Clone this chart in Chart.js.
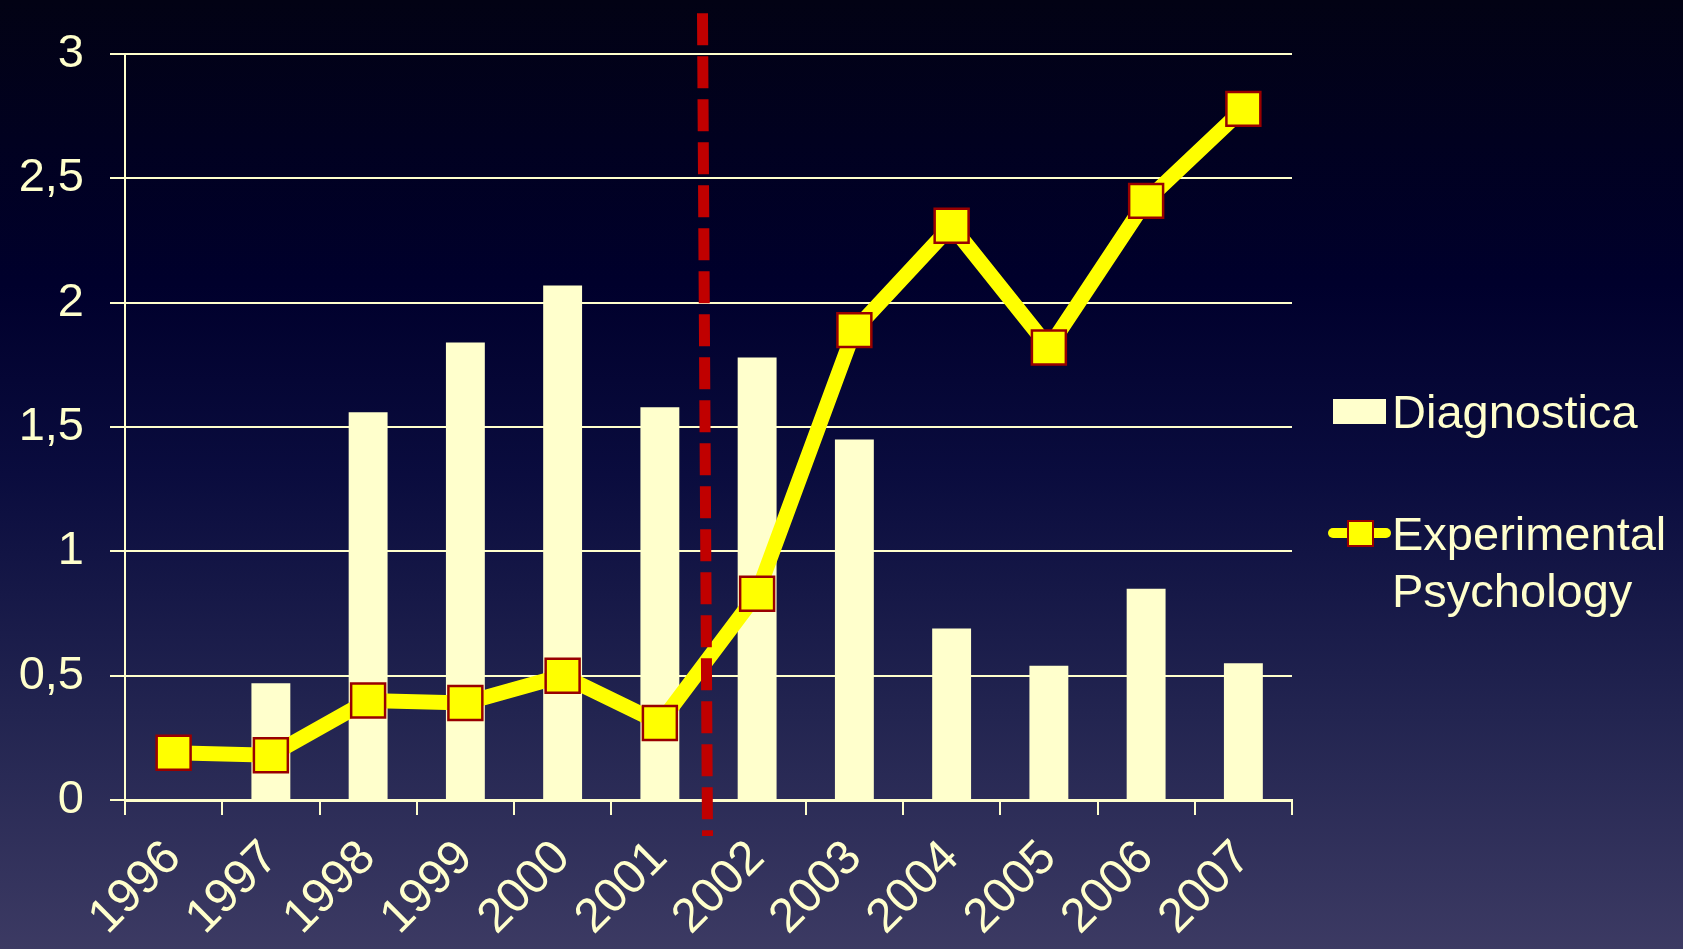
<!DOCTYPE html>
<html>
<head>
<meta charset="utf-8">
<script src="https://cdn.jsdelivr.net/npm/chart.js@4"></script>
<style>
	html, body { margin: 0; padding: 0; overflow: hidden; }
	body {
		width: 1683px; height: 949px;
		background: linear-gradient(to bottom, #020214 0%, #00002c 30%, #0a0c3e 50%, #222450 75%, #3c3a63 100%);
		font-family: 'Liberation Sans', Arial, sans-serif;
	}
	#wrap { position: relative; width: 1683px; height: 949px; }
	.lg-text { position: absolute; color: #ffffcc; font-size: 47px; line-height: 57px; white-space: nowrap; }
	.lg-box { position: absolute; background: #ffffcc; }
	.lg-line { position: absolute; background: #ffff00; border-radius: 5px; }
	.lg-mark { position: absolute; background: #ffff00; border: 2px solid #990000; box-sizing: border-box; }
</style>
</head>
<body>
<div id="wrap">
	<canvas id="chart"></canvas>
	<div class="lg-box" style="left:1333px; top:399px; width:53px; height:25px;"></div>
	<div class="lg-text" id="lg1" style="left:1392px; top:383px;"></div>
	<div class="lg-line" style="left:1328px; top:528px; width:63px; height:10px;"></div>
	<div class="lg-mark" style="left:1347px; top:520px; width:27px; height:27px;"></div>
	<div class="lg-text" id="lg2" style="left:1392px; top:505px;"></div>
</div>
<script>
const years = ['1996', '1997', '1998', '1999', '2000', '2001', '2002', '2003', '2004', '2005', '2006', '2007'];
const diagnostica = [null, 0.47, 1.56, 1.84, 2.07, 1.58, 1.78, 1.45, 0.69, 0.54, 0.85, 0.55];
const experimentalPsychology = [0.19, 0.18, 0.40, 0.39, 0.50, 0.31, 0.83, 1.89, 2.31, 1.82, 2.41, 2.78];
const yTicks = [0, 0.5, 1, 1.5, 2, 2.5, 3];
const seriesNames = ['Diagnostica', 'Experimental\nPsychology'];
const splitAfter = '2001'; // dashed divider sits after this year

const cream = '#ffffcc';
const yFont = { family: "'Liberation Sans', Arial, sans-serif", size: 47 };
const xFont = { family: "'Liberation Sans', Arial, sans-serif", size: 48 };

document.getElementById('lg1').textContent = seriesNames[0];
document.getElementById('lg2').innerHTML = seriesNames[1].split('\n').join('<br>');

// red dashed divider between two years
const divider = {
	id: 'divider',
	afterDatasetsDraw(chart) {
		const { ctx, chartArea, scales: { x } } = chart;
		const i = years.indexOf(splitAfter);
		const xm = (x.getPixelForValue(i) + x.getPixelForValue(i + 1)) / 2;
		ctx.save();
		ctx.strokeStyle = '#c00000';
		ctx.lineWidth = 11;
		ctx.setLineDash([32, 11]);
		ctx.beginPath();
		ctx.moveTo(xm - 6, chartArea.top - 41);
		ctx.lineTo(xm - 1, chartArea.bottom + 36);
		ctx.stroke();
		ctx.restore();
	}
};

new Chart(document.getElementById('chart'), {
	type: 'bar',
	data: {
		labels: years,
		datasets: [{
			type: 'line',
			label: 'Experimental Psychology',
			data: experimentalPsychology,
			borderColor: '#ffff00',
			borderWidth: 15,
			pointStyle: 'rect',
			pointRadius: 24,
			pointHoverRadius: 24,
			pointBackgroundColor: '#ffff00',
			pointBorderColor: '#990000',
			pointBorderWidth: 2.5,
			tension: 0,
			order: 0
		}, {
			label: 'Diagnostica',
			data: diagnostica,
			backgroundColor: cream,
			borderWidth: 0,
			barPercentage: 0.4,
			categoryPercentage: 1,
			order: 1
		}]
	},
	options: {
		responsive: true,
		maintainAspectRatio: false,
		animation: false,
		layout: { padding: { top: 52, right: 391, left: 10, bottom: 0 } },
		plugins: {
			legend: { display: false },
			tooltip: { enabled: false }
		},
		scales: {
			y: {
				min: 0,
				max: 3,
				afterBuildTicks: axis => { axis.ticks = yTicks.map(v => ({ value: v })); },
				afterFit: axis => { axis.width = 115; },
				ticks: {
					color: cream,
					font: yFont,
					padding: 26,
					callback: v => String(v).replace('.', ',')
				},
				grid: { color: cream, lineWidth: 2, tickLength: 15 },
				border: { color: cream, width: 2 }
			},
			x: {
				afterFit: axis => { axis.height = 149; },
				ticks: {
					color: cream,
					font: xFont,
					minRotation: 45,
					maxRotation: 45,
					autoSkip: false,
					padding: 15
				},
				grid: { color: cream, lineWidth: 2, tickLength: 15, drawOnChartArea: false, offset: true },
				border: { color: cream, width: 3 }
			}
		}
	},
	plugins: [divider]
});
</script>
</body>
</html>
